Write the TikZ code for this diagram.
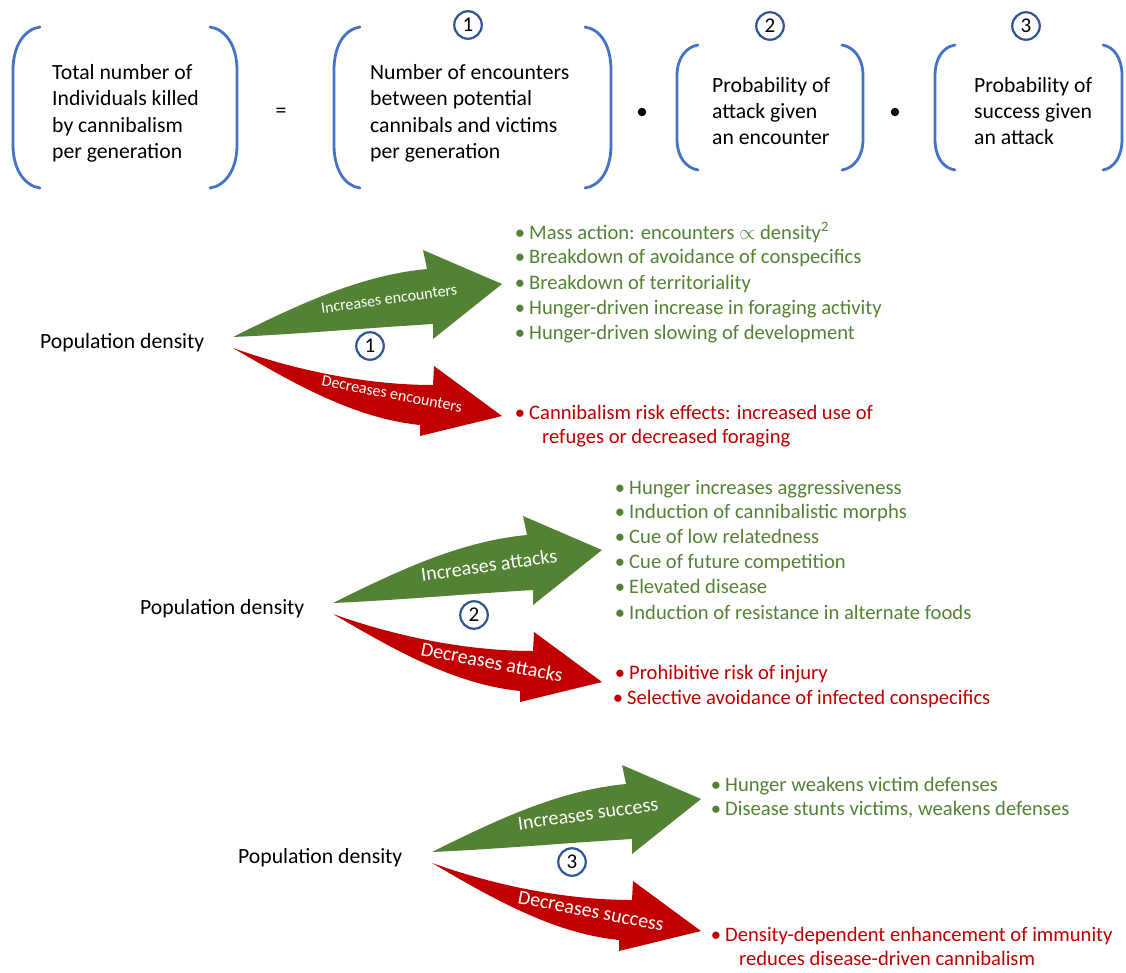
\documentclass[tikz,border=0pt]{standalone}
\usepackage{fontspec}
\setmainfont{Carlito}
\usetikzlibrary{calc}
\definecolor{brblue}{HTML}{4472C4}
\definecolor{numblue}{HTML}{2F5597}
\definecolor{tgreen}{HTML}{548235}
\definecolor{tred}{HTML}{C00000}
\definecolor{agreen}{HTML}{548235}
\definecolor{ared}{HTML}{C00000}
\tikzset{
  bracket/.style={draw=brblue, line width=2.8pt, line cap=round},
  eqtext/.style={font=\fontsize{21.7}{26}\selectfont, anchor=base west, inner sep=0pt},
  numc/.style={circle, draw=numblue, line width=2.2pt, minimum size=27.5pt, inner sep=0pt, fill=white, font=\fontsize{21}{21}\selectfont},
  popt/.style={font=\fontsize{21.7}{26}\selectfont, anchor=base west, inner sep=0pt},
  gitem/.style={font=\fontsize{20.6}{24}\selectfont, anchor=base west, inner sep=0pt, text=tgreen},
  ritem/.style={font=\fontsize{20.6}{24}\selectfont, anchor=base west, inner sep=0pt, text=tred},
  labs/.style={text=white, inner sep=0pt, font=\fontsize{16}{16}\selectfont},
  labl/.style={text=white, inner sep=0pt, font=\fontsize{20}{20}\selectfont},
  garrow/.pic={\fill[agreen] (0,0) .. controls (70,-35) and (130,-62) .. (194,-68) -- (190,-87) -- (269,-53) -- (200,2) -- (200,-13) .. controls (133,-9) and (67,-3) .. cycle;},
  rarrow/.pic={\fill[ared] (0,0) .. controls (70,25) and (140,37) .. (200,37) -- (201,18) -- (269,68) -- (187,88) -- (187,77) .. controls (120,70) and (60,35) .. cycle;},
  bigdot/.style={circle, fill=black, inner sep=0pt, minimum size=8.5pt}
}
\newcommand{\bul}{\llap{•\hspace{4pt}}}
\begin{document}
\begin{tikzpicture}[x=1pt,y=-1pt]
\useasboundingbox (0,0) rectangle (1126,972);
% ---- top equation ----
\draw[bracket] (40,27) .. controls (25,29) and (13,45) .. (13,70) -- (13,145) .. controls (13,170) and (25,186) .. (40,188);
\draw[bracket] (210,27) .. controls (225,29) and (237,45) .. (237,70) -- (237,145) .. controls (237,170) and (225,186) .. (210,188);
\draw[bracket] (360,27) .. controls (345,29) and (334,45) .. (334,70) -- (334,145) .. controls (334,170) and (345,186) .. (360,188);
\draw[bracket] (585,27) .. controls (600,29) and (611,45) .. (611,70) -- (611,145) .. controls (611,170) and (600,186) .. (585,188);
\draw[bracket] (698,45) .. controls (686,47) and (677,58) .. (677,76) -- (677,139) .. controls (677,157) and (686,168) .. (698,170);
\draw[bracket] (842,45) .. controls (854,47) and (863,58) .. (863,76) -- (863,139) .. controls (863,157) and (854,168) .. (842,170);
\draw[bracket] (955,45) .. controls (943,47) and (935,58) .. (935,76) -- (935,139) .. controls (935,157) and (943,168) .. (955,170);
\draw[bracket] (1103,45) .. controls (1114,47) and (1122,58) .. (1122,76) -- (1122,139) .. controls (1122,157) and (1114,168) .. (1103,170);

\node[eqtext] (a1) at (52,79) {Total number of};
\node[eqtext] (a2) at (52,105) {Individuals killed};
\node[eqtext] (a3) at (52,132) {by cannibalism};
\node[eqtext] (a4) at (52,158) {per generation};
\node[font=\fontsize{21.7}{26}\selectfont, inner sep=0pt] (eq) at (281,113) {=};
\node[eqtext] (b1) at (370,79) {Number of encounters};
\node[eqtext] (b2) at (370,105) {between potential};
\node[eqtext] (b3) at (370,132) {cannibals and victims};
\node[eqtext] (b4) at (370,158) {per generation};
\node[bigdot] (d1) at (642,112) {};
\node[eqtext] (c1) at (712,92) {Probability of};
\node[eqtext] (c2) at (712,118) {attack given};
\node[eqtext] (c3) at (712,144) {an encounter};
\node[bigdot] (d2) at (895,112) {};
\node[eqtext] (e1) at (974,92) {Probability of};
\node[eqtext] (e2) at (974,118) {success given};
\node[eqtext] (e3) at (974,144) {an attack};
\node[numc] (n1) at (468,25) {1};
\node[numc] (n2) at (770,26) {2};
\node[numc] (n3) at (1026,26) {3};

% ---- section 1 ----
\coordinate (p1) at (233,337);
\pic at (p1) {garrow};
\pic at ($(p1)+(0,11)$) {rarrow};
\node[labs, rotate=8] (l1g) at (389,299) {Increases encounters};
\node[labs, rotate=-11] (l1r) at (392,394) {Decreases encounters};
\node[numc] (s1) at (370,346) {1};
\node[popt] (pd1) at (40,348) {Population density};
\node[gitem] (g11) at (529,239) {\bul Mass action: encounters $\propto$ density\textsuperscript{2}};
\node[gitem] (g12) at (529,263) {\bul Breakdown of avoidance of conspecifics};
\node[gitem] (g13) at (529,289) {\bul Breakdown of territoriality};
\node[gitem] (g14) at (529,314) {\bul Hunger-driven increase in foraging activity};
\node[gitem] (g15) at (529,339) {\bul Hunger-driven slowing of development};
\node[ritem] (r11) at (529,419) {\bul Cannibalism risk effects: increased use of};
\node[ritem] (r12) at (542,443) {refuges or decreased foraging};

% ---- section 2 ----
\coordinate (p2) at (333,603);
\pic at (p2) {garrow};
\pic at ($(p2)+(0,11)$) {rarrow};
\node[labl, rotate=8] (l2g) at (489,565) {Increases attacks};
\node[labl, rotate=-11] (l2r) at (492,662) {Decreases attacks};
\node[numc] (s2) at (474,615) {2};
\node[popt] (pd2) at (140,614) {Population density};
\node[gitem] (g21) at (629,494) {\bul Hunger increases aggressiveness};
\node[gitem] (g22) at (629,518) {\bul Induction of cannibalistic morphs};
\node[gitem] (g23) at (629,543) {\bul Cue of low relatedness};
\node[gitem] (g24) at (629,568) {\bul Cue of future competition};
\node[gitem] (g25) at (629,593) {\bul Elevated disease};
\node[gitem] (g26) at (629,619) {\bul Induction of resistance in alternate foods};
\node[ritem] (r21) at (629,679) {\bul Prohibitive risk of injury};
\node[ritem] (r22) at (627,704) {\bul Selective avoidance of infected conspecifics};

% ---- section 3 ----
\coordinate (p3) at (432,852);
\pic at (p3) {garrow};
\pic at ($(p3)+(0,11)$) {rarrow};
\node[labl, rotate=8] (l3g) at (588,814) {Increases success};
\node[labl, rotate=-11] (l3r) at (591,911) {Decreases success};
\node[numc] (s3) at (572,862) {3};
\node[popt] (pd3) at (238,863) {Population density};
\node[gitem] (g31) at (725,791) {\bul Hunger weakens victim defenses};
\node[gitem] (g32) at (725,815) {\bul Disease stunts victims, weakens defenses};
\node[ritem] (r31) at (725,941) {\bul Density-dependent enhancement of immunity};
\node[ritem] (r32) at (739,965) {reduces disease-driven cannibalism};
\end{tikzpicture}
\end{document}
